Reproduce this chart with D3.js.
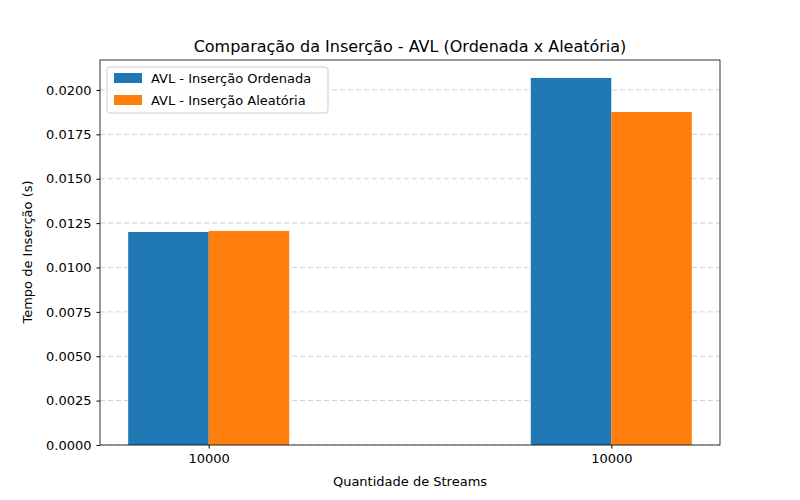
<!DOCTYPE html>
<html><head><meta charset="utf-8">
<script src="https://cdn.jsdelivr.net/npm/d3@7"></script>
<style>body{margin:0;background:#fff}text{font-family:"DejaVu Sans",sans-serif}</style>
</head><body><svg width="800" height="500"></svg>
<script>
const groups = [0, 1];
const groupLabels = ["10000", "10000"];
const ordenada = [0.0120, 0.02068];
const aleatoria = [0.01206, 0.01876];
const seriesNames = ["AVL - Inserção Ordenada", "AVL - Inserção Aleatória"];
const colors = ["#1f77b4", "#ff7f0e"];
const yTicks = [0, 0.0025, 0.005, 0.0075, 0.01, 0.0125, 0.015, 0.0175, 0.02];

const padL = 100, padR = 720, padT = 60, padB = 445;
const svg = d3.select("svg");
const x = d3.scaleLinear().domain([-0.27, 1.27]).range([padL, padR]);
const y = d3.scaleLinear().domain([0, 0.02169]).range([padB, padT]);
const bw = 0.2;

// grid
svg.append("g").selectAll("line").data(yTicks).enter().append("line")
  .attr("x1", padL).attr("x2", padR).attr("y1", d => y(d)).attr("y2", d => y(d))
  .attr("stroke", "#b0b0b0").attr("stroke-dasharray", "5,3").attr("stroke-width", 0.8).attr("opacity", 0.7);

const series = [ordenada, aleatoria];
series.forEach((vals, s) => {
  svg.append("g").selectAll("rect").data(groups).enter().append("rect")
    .attr("x", d => x(d + (s - 1) * bw))
    .attr("width", x(bw) - x(0))
    .attr("y", (d, i) => y(vals[i]))
    .attr("height", (d, i) => padB - y(vals[i]))
    .attr("fill", colors[s]);
});

svg.append("rect").attr("x", padL).attr("y", padT).attr("width", padR - padL).attr("height", padB - padT)
  .attr("fill", "none").attr("stroke", "#000").attr("stroke-width", 0.8);

const xAxis = d3.axisBottom(x).tickValues(groups).tickFormat((d, i) => groupLabels[i]).tickSize(3.5).tickPadding(5);
svg.append("g").attr("transform", `translate(0,${padB})`).call(xAxis)
  .call(g => g.select(".domain").remove())
  .selectAll("text").attr("font-size", 13).attr("fill", "#000").attr("font-family", "DejaVu Sans");
const yAxis = d3.axisLeft(y).tickValues(yTicks).tickFormat(d3.format(".4f")).tickSize(3.5).tickPadding(5);
svg.append("g").attr("transform", `translate(${padL},0)`).call(yAxis)
  .call(g => g.select(".domain").remove())
  .selectAll("text").attr("font-size", 13).attr("fill", "#000").attr("font-family", "DejaVu Sans");

svg.append("text").attr("x", 410).attr("y", 52).attr("text-anchor", "middle").attr("font-size", 16)
  .text("Comparação da Inserção - AVL (Ordenada x Aleatória)");
svg.append("text").attr("x", 410).attr("y", 486).attr("text-anchor", "middle").attr("font-size", 13)
  .text("Quantidade de Streams");
svg.append("text").attr("transform", "translate(32,252) rotate(-90)").attr("text-anchor", "middle").attr("font-size", 13)
  .text("Tempo de Inserção (s)");

const lg = svg.append("g").attr("transform", "translate(107,67)");
lg.append("rect").attr("width", 221).attr("height", 46).attr("rx", 3).attr("fill", "#fff").attr("fill-opacity", 0.8)
  .attr("stroke", "#ccc");
seriesNames.forEach((n, i) => {
  lg.append("rect").attr("x", 7).attr("y", 6 + i * 22).attr("width", 28).attr("height", 10).attr("fill", colors[i]);
  lg.append("text").attr("x", 44).attr("y", 16 + i * 22).attr("font-size", 13).text(n);
});
</script></body></html>
